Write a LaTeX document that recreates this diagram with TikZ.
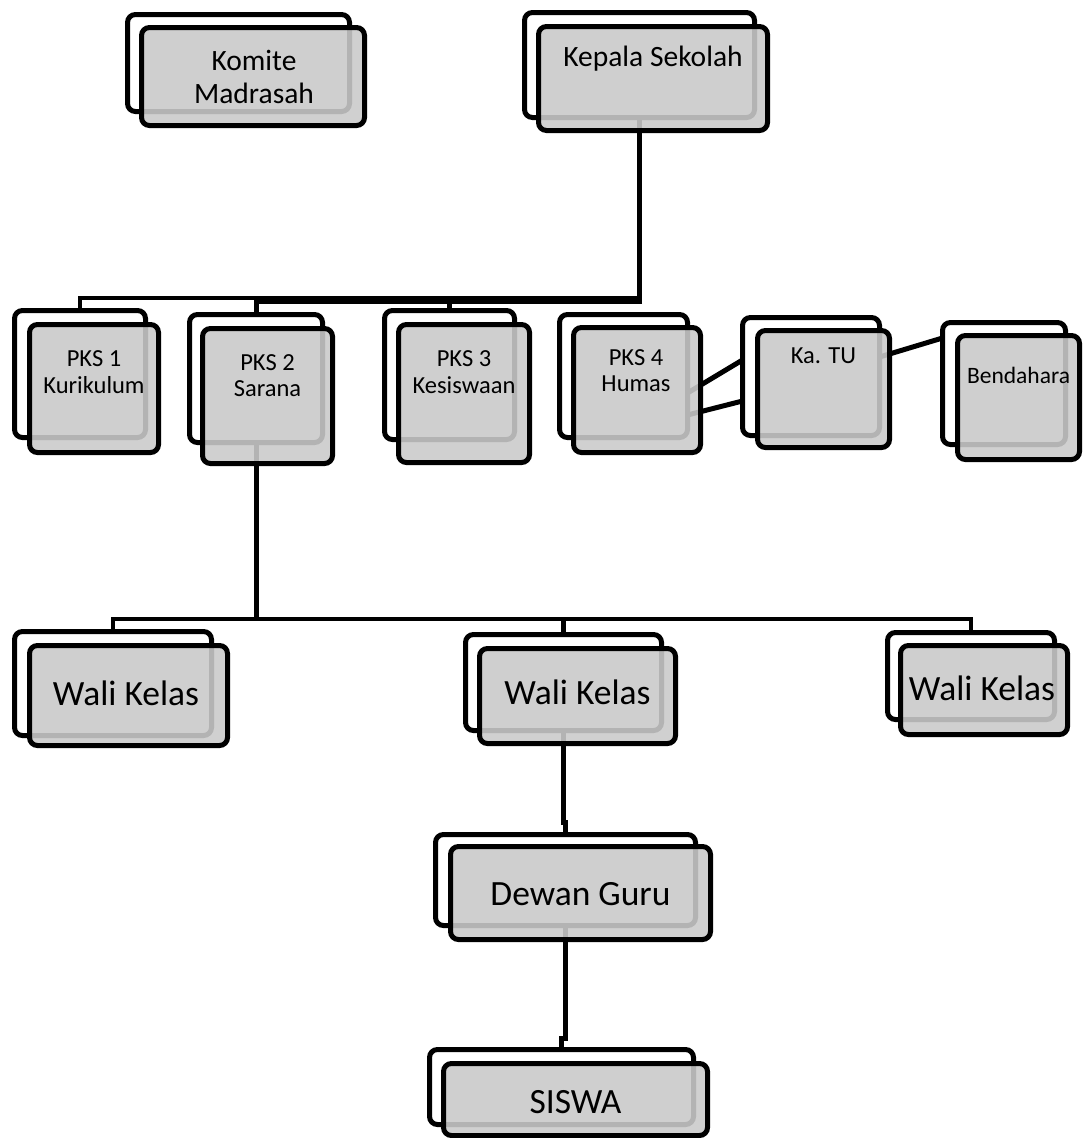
\documentclass[tikz,border=0pt]{standalone}
\usepackage{fontspec}
\setmainfont{Carlito}
\usetikzlibrary{calc}
\definecolor{boxgray}{RGB}{202,202,202}
\begin{document}
\begin{tikzpicture}[x=1pt,y=-1pt,
  backbox/.style={draw=black, line width=5pt, fill=white, rounded corners=8pt, inner sep=0pt, outer sep=0pt},
  frontbox/.style={draw=black, line width=5pt, fill=boxgray, fill opacity=0.89, draw opacity=1, rounded corners=8pt, inner sep=0pt, outer sep=0pt},
  sz/.style 2 args={minimum width=#1pt, minimum height=#2pt},
  conn/.style={line width=5pt, draw=black, line join=miter},
  busline/.style={line width=4.5pt, draw=black, line join=miter},
  thickbus/.style={line width=8pt, draw=black},
  tbig/.style={font=\fontsize{29.5}{31}\selectfont, anchor=base, inner sep=0pt},
  tmid/.style={font=\fontsize{24.5}{26}\selectfont, anchor=base, inner sep=0pt},
  tsmall/.style={font=\fontsize{23.5}{25}\selectfont, anchor=base, inner sep=0pt},
  thuge/.style={font=\fontsize{35.5}{37}\selectfont, anchor=base, inner sep=0pt}
]
\useasboundingbox (0,0) rectangle (1090,1138);

% back boxes
\node[backbox, sz={222}{97}]  (komiteB) at (238.5,63) {};
\node[backbox, sz={230}{105}] (kepalaB) at (639.5,65) {};
\node[backbox, sz={131}{127}] (pks1B) at (80,374) {};
\node[backbox, sz={133}{128}] (pks2B) at (256,378.5) {};
\node[backbox, sz={130}{129}] (pks3B) at (449.5,375) {};
\node[backbox, sz={128}{123}] (pks4B) at (623.5,376) {};
\node[backbox, sz={137}{118}] (katuB) at (811,376.5) {};
\node[backbox, sz={123}{122}] (bendB) at (1004,383.5) {};
\node[backbox, sz={197}{104}] (wali1B) at (113,683.5) {};
\node[backbox, sz={196}{96}]  (wali2B) at (563.5,682.5) {};
\node[backbox, sz={167}{87}]  (wali3B) at (971,676) {};
\node[backbox, sz={260}{91}]  (dewanB) at (565.5,880) {};
\node[backbox, sz={264}{75}]  (siswaB) at (561.5,1087) {};

% bus coordinates
\coordinate (busP) at (0,298);
\coordinate (busQ) at (0,300);
\coordinate (busW) at (0,619);

% connectors
\draw[conn] (kepalaB.south) -- (kepalaB.south |- busQ);
\draw[busline] (kepalaB.south |- busP) -- (busP -| pks1B.north) -- (pks1B.north);
\draw[thickbus] ($(kepalaB.south |- busQ)+(2.5,0)$) -- (busQ -| pks2B.north);
\draw[conn] (busQ -| pks2B.north) -- (pks2B.north);
\draw[conn] (busQ -| pks3B.north) -- (pks3B.north);

\draw[conn] ($(pks4B.east)+(0,17)$) -- ($(katuB.west)+(0,-16.5)$);
\draw[conn] ($(pks4B.east)+(0,39)$) -- ($(katuB.west)+(0,24.5)$);
\draw[conn] ($(katuB.east)+(0,-19.5)$) -- ($(bendB.west)+(0,-45.5)$);

\draw[conn] (pks2B.south) -- (pks2B.south |- busW);
\draw[busline] (wali1B.north) -- (wali1B.north |- busW) -- (wali3B.north |- busW) -- (wali3B.north);
\draw[conn] (wali2B.north |- busW) -- (wali2B.north);

\draw[conn] (wali2B.south) |- ($(dewanB.north)+(0,-12)$) -- (dewanB.north);
\draw[conn] (dewanB.south) |- ($(siswaB.north)+(0,-11)$) -- (siswaB.north);

% front boxes
\node[frontbox, sz={223}{98}]  (komite) at (253,76.5) {};
\node[frontbox, sz={229}{104}] (kepala) at (653,78.5) {};
\node[frontbox, sz={129}{128}] (pks1) at (94,388.5) {};
\node[frontbox, sz={130}{135}] (pks2) at (267.5,396) {};
\node[frontbox, sz={131}{138}] (pks3) at (464,393.5) {};
\node[frontbox, sz={127}{125}] (pks4) at (637,390) {};
\node[frontbox, sz={132}{117}] (katu) at (823.5,389) {};
\node[frontbox, sz={122}{124}] (bend) at (1018.5,397.5) {};
\node[frontbox, sz={198}{100}] (wali1) at (128.5,695.5) {};
\node[frontbox, sz={196}{95}]  (wali2) at (577.5,696) {};
\node[frontbox, sz={167}{89}]  (wali3) at (984,690) {};
\node[frontbox, sz={260}{93}]  (dewan) at (580.5,893) {};
\node[frontbox, sz={264}{72}]  (siswa) at (575.5,1099.5) {};

% texts
\node[tbig] (komiteT1) at (254,70) {Komite};
\node[tbig] (komiteT2) at (254,103) {Madrasah};
\node[tbig] (kepalaT) at (653,66) {Kepala Sekolah};
\node[tmid] (pks1T1) at (94,366) {PKS 1};
\node[tmid] (pks1T2) at (94,393) {Kurikulum};
\node[tmid] (pks2T1) at (267.5,370) {PKS 2};
\node[tmid] (pks2T2) at (267.5,396) {Sarana};
\node[tmid] (pks3T1) at (464,366) {PKS 3};
\node[tmid] (pks3T2) at (464,393) {Kesiswaan};
\node[tmid] (pks4T1) at (636,365) {PKS 4};
\node[tmid] (pks4T2) at (636,391) {Humas};
\node[tmid] (katuT) at (823.5,363) {Ka. TU};
\node[tsmall] (bendT) at (1018.5,383) {Bendahara};
\node[thuge] (wali1T) at (126,705) {Wali Kelas};
\node[thuge] (wali2T) at (577.5,704) {Wali Kelas};
\node[thuge] (wali3T) at (982,700) {Wali Kelas};
\node[thuge] (dewanT) at (580.5,905) {Dewan Guru};
\node[thuge] (siswaT) at (575.5,1113) {SISWA};
\end{tikzpicture}
\end{document}
